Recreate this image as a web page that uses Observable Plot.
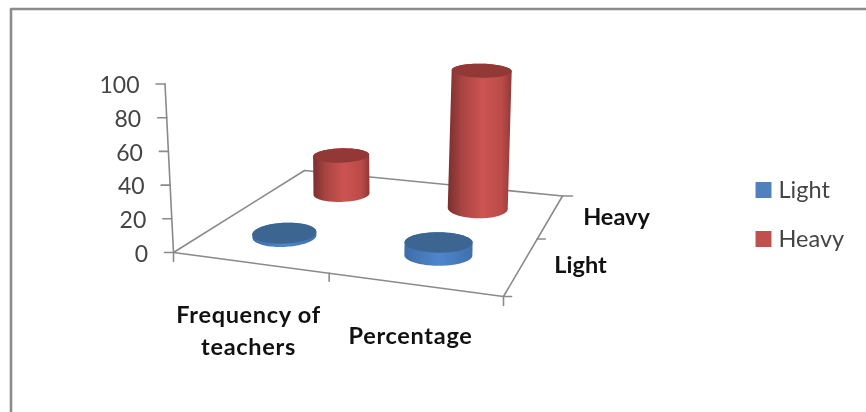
<!DOCTYPE html>
<html>
<head>
<meta charset="utf-8">
<script src="https://cdn.jsdelivr.net/npm/d3@7"></script>
<script src="https://cdn.jsdelivr.net/npm/@observablehq/plot@0.6"></script>
<style>html,body{margin:0;padding:0;background:#fff;overflow:hidden}svg{display:block;filter:blur(0.45px)}</style>
</head>
<body>
<div id="chart"></div>
<script>
// Data
const categories = ["Frequency of teachers", "Percentage"];
const seriesNames = ["Light", "Heavy"];
const lightValues = [2, 8];
const heavyValues = [24, 86];
const valueTicks = [0, 20, 40, 60, 80, 100];

// 3D scene (floor corners in plot units)
const W = 866, H = 412;
const A = [173, 252], B = [503, 296], C = [562, 195.5], D = [304, 170];
const pxPerUnit = 1.6;
const axisTop = [164.5, 83.5];

// Square-to-quad homography: u along A→B, v along A→D
function floor(u, v) {
  const dx1 = B[0] - C[0], dx2 = D[0] - C[0], sx = A[0] - B[0] + C[0] - D[0];
  const dy1 = B[1] - C[1], dy2 = D[1] - C[1], sy = A[1] - B[1] + C[1] - D[1];
  const den = dx1 * dy2 - dx2 * dy1;
  const g = (sx * dy2 - dx2 * sy) / den, h = (dx1 * sy - sx * dy1) / den;
  const a = B[0] - A[0] + g * B[0], b = D[0] - A[0] + h * D[0];
  const d = B[1] - A[1] + g * B[1], e = D[1] - A[1] + h * D[1];
  const w = g * u + h * v + 1;
  return [(a * u + b * v + A[0]) / w, (d * u + e * v + A[1]) / w];
}
const lean = x => (x - 375) * 0.00028;

function ellipsePts(cx, cy, rx, ry, t0, t1, n = 48) {
  const tilt = (cx - 420) * 0.01;
  return d3.range(n + 1).map(i => {
    const t = t0 + (t1 - t0) * i / n;
    return [cx + rx * Math.cos(t), cy + ry * Math.sin(t) + tilt * Math.cos(t)];
  });
}

function cylinder(series, catIndex, seriesIndex, value) {
  const u = catIndex ? 0.75 : 0.25, v = seriesIndex ? 0.75 : 0.25;
  const [bx, by] = floor(u, v);
  const h = value * pxPerUnit;
  const tx = bx + h * lean(bx), ty = by - h;
  const rx = (seriesIndex ? 28 : 32) + catIndex * 2;
  const ryBase = 10.5 - (v - 0.25) * 2 * (catIndex ? 0.5 : 2.5);
  const ryTop = ryBase - value * 0.035;
  const body = [
    ...ellipsePts(tx, ty, rx, ryTop, Math.PI, 2 * Math.PI),
    ...ellipsePts(bx, by, rx, ryBase, 0, Math.PI)
  ];
  return {series, body, top: ellipsePts(tx, ty, rx, ryTop, 0, 2 * Math.PI)};
}

// Back-to-front drawing order
const cylinders = [
  cylinder("Heavy", 0, 1, heavyValues[0]),
  cylinder("Heavy", 1, 1, heavyValues[1]),
  cylinder("Light", 0, 0, lightValues[0]),
  cylinder("Light", 1, 0, lightValues[1])
];

const AXIS = "#8a8a8a";
const lineOf = (pts, o = {}) => Plot.line(pts, {x: d => d[0], y: d => d[1], stroke: AXIS, strokeWidth: 1.6, ...o});
const tickAt = (p, dx, dy) => lineOf([p, [p[0] + dx, p[1] + dy]]);

const yAxisPoint = v => {
  const t = v / 100;
  return [A[0] + (axisTop[0] - A[0]) * t, A[1] + (axisTop[1] - A[1]) * t];
};

const gradient = () => {
  const ns = "http://www.w3.org/2000/svg";
  const defs = document.createElementNS(ns, "defs");
  const make = (id, stops) => {
    const g = document.createElementNS(ns, "linearGradient");
    g.setAttribute("id", id);
    stops.forEach(([o, c]) => {
      const s = document.createElementNS(ns, "stop");
      s.setAttribute("offset", o);
      s.setAttribute("stop-color", c);
      g.appendChild(s);
    });
    defs.appendChild(g);
  };
  make("redSide", [[0, "#7a2f2d"], [0.22, "#a84442"], [0.55, "#cc5451"], [0.85, "#bb4b48"], [1, "#8f3937"]]);
  make("blueSide", [[0, "#3d6da8"], [0.5, "#4f86cc"], [1, "#3f70ac"]]);
  return defs;
};

const cylMarks = cylinders.flatMap(c => [
  Plot.line(c.body, {x: d => d[0], y: d => d[1], fill: c.series === "Heavy" ? "url(#redSide)" : "url(#blueSide)", stroke: "none"}),
  Plot.line(c.top, {x: d => d[0], y: d => d[1], fill: c.series === "Heavy" ? "#923836" : "#3c6591", stroke: "none"})
]);

const FONT = "Lato, Carlito, sans-serif";
const tickLabelData = valueTicks.map(v => {
  const p = yAxisPoint(v);
  return {label: String(v), x: p[0] - 25.5, y: p[1] + 2};
});
const catLabels = [
  {text: "Frequency of", x: 248, y: 314.5},
  {text: "teachers", x: 248, y: 346.5},
  {text: categories[1], x: 410, y: 335.5}
];
const depthLabels = [
  {text: seriesNames[1], x: 616, y: 217},
  {text: seriesNames[0], x: 580, y: 265}
];
const legendRows = [
  {name: seriesNames[0], y: 189.5, color: "#4f81bd"},
  {name: seriesNames[1], y: 238.5, color: "#c0504d"}
];

const chart = Plot.plot({
  width: W, height: H,
  margin: 0,
  x: {domain: [0, W], range: [0, W], axis: null},
  y: {domain: [0, H], range: [0, H], axis: null},
  style: {background: "#fff"},
  marks: [
    gradient,
    // outer frame (top and left edges only)
    lineOf([[W, 8.5], [10.5, 8.5], [10.5, H]], {stroke: "#8c8c8c", strokeWidth: 2.6}),
    // floor and value axis
    lineOf([A, B]), lineOf([A, D]), lineOf([D, C]), lineOf([B, C]),
    lineOf([A, axisTop]),
    ...valueTicks.map(v => tickAt(yAxisPoint(v), -9, 0)),
    tickAt(A, 0, 9),
    tickAt(floor(0.5, 0), 0, 8),
    tickAt(B, 0, 9), tickAt(B, 8, 0),
    tickAt(floor(1, 0.5), 8, 0),
    tickAt(C, 10, 0),
    ...cylMarks,
    Plot.text(tickLabelData, {x: "x", y: "y", text: "label", textAnchor: "end", fontSize: 23, fontFamily: FONT, fill: "#444"}),
    Plot.text(catLabels, {x: "x", y: "y", text: "text", fontSize: 23.5, fontWeight: 700, fontFamily: FONT, fill: "#111"}),
    Plot.text(depthLabels, {x: "x", y: "y", text: "text", fontSize: 23.5, fontWeight: 700, fontFamily: FONT, fill: "#111"}),
    Plot.dot(legendRows, {x: () => 763, y: "y", symbol: "square", r: 9, fill: "color", stroke: null}),
    Plot.text(legendRows, {x: () => 778, y: "y", text: "name", textAnchor: "start", fontSize: 23.5, fontFamily: FONT, fill: "#444"})
  ]
});
const spaced = new Set(catLabels.map(d => d.text));
chart.querySelectorAll("text").forEach(t => {
  if (spaced.has(t.textContent)) t.style.letterSpacing = "0.7px";
});
document.getElementById("chart").appendChild(chart);
</script>
</body>
</html>
